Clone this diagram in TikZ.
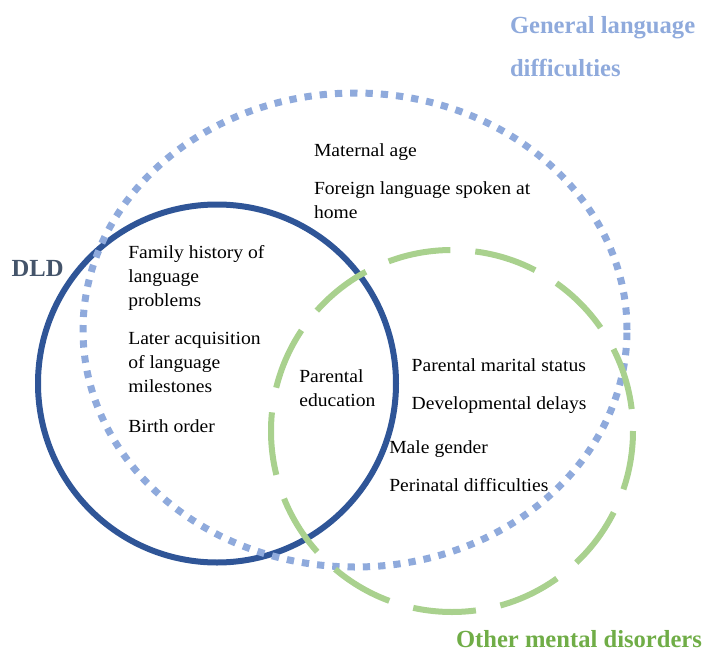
\documentclass[tikz,border=0pt]{standalone}
\usepackage{fontspec}
\setmainfont{Liberation Serif}
\newfontfamily\itemfont[FakeStretch=1.06]{Liberation Serif}
\usetikzlibrary{shapes.geometric}
\definecolor{dldblue}{HTML}{2F5597}
\definecolor{genblue}{HTML}{8FAADC}
\definecolor{mentgreen}{HTML}{A9D18E}
\definecolor{dldlabel}{HTML}{44546A}
\definecolor{mentlabel}{HTML}{70AD47}
\begin{document}
\begin{tikzpicture}[x=1pt,y=-1pt,
  item/.style={anchor=base west, inner sep=0pt, outer sep=0pt, align=left,
    font=\itemfont\fontsize{18.5}{24}\selectfont},
  biglabel/.style={anchor=base west, inner sep=0pt, outer sep=0pt, align=left,
    font=\fontsize{24.6}{43}\selectfont\bfseries},
  ring/.style={inner sep=0pt, outer sep=0pt}]
\useasboundingbox (0,0) rectangle (705,651);
% sets
\node[ring, circle, draw=dldblue, line width=6pt, minimum size=358pt] (dldc) at (217,383.5) {};
\node[ring, ellipse, draw=genblue, line width=7pt, dash pattern=on 7.3pt off 8pt,
  minimum width=544pt, minimum height=474pt] (genc) at (355,330) {};
\node[ring, circle, draw=mentgreen, line width=6pt, dash pattern=on 63pt off 25pt,
  dash phase=66pt, minimum size=362pt] (mentc) at (452,431) {};
% labels of sets (base anchor = baseline of the last line)
\node[biglabel, text=genblue] (genlab) at (510,76.3) {General language\\difficulties};
\node[biglabel, text=dldlabel] (dldlab) at (11.7,276) {DLD};
\node[biglabel, text=mentlabel, text depth=0pt] (mentlab) at (456,647.5) {Other mental disorders};
% factors
\node[item] (matage) at (314,156) {Maternal age};
\node[item] (foreign) at (314,218.3) {Foreign language spoken at\\home};
\node[item] (family) at (128.3,306.3) {Family history of\\language\\problems};
\node[item] (later) at (128.3,392.3) {Later acquisition\\of language\\milestones};
\node[item] (birth) at (128.3,432.3) {Birth order};
\node[item] (pedu) at (299.3,406.5) {Parental\\education};
\node[item] (marital) at (411.7,371.7) {Parental marital status};
\node[item] (devdel) at (411.7,409.3) {Developmental delays};
\node[item] (male) at (389.3,453.3) {Male gender};
\node[item] (perin) at (389.3,491.7) {Perinatal difficulties};
\end{tikzpicture}
\end{document}
